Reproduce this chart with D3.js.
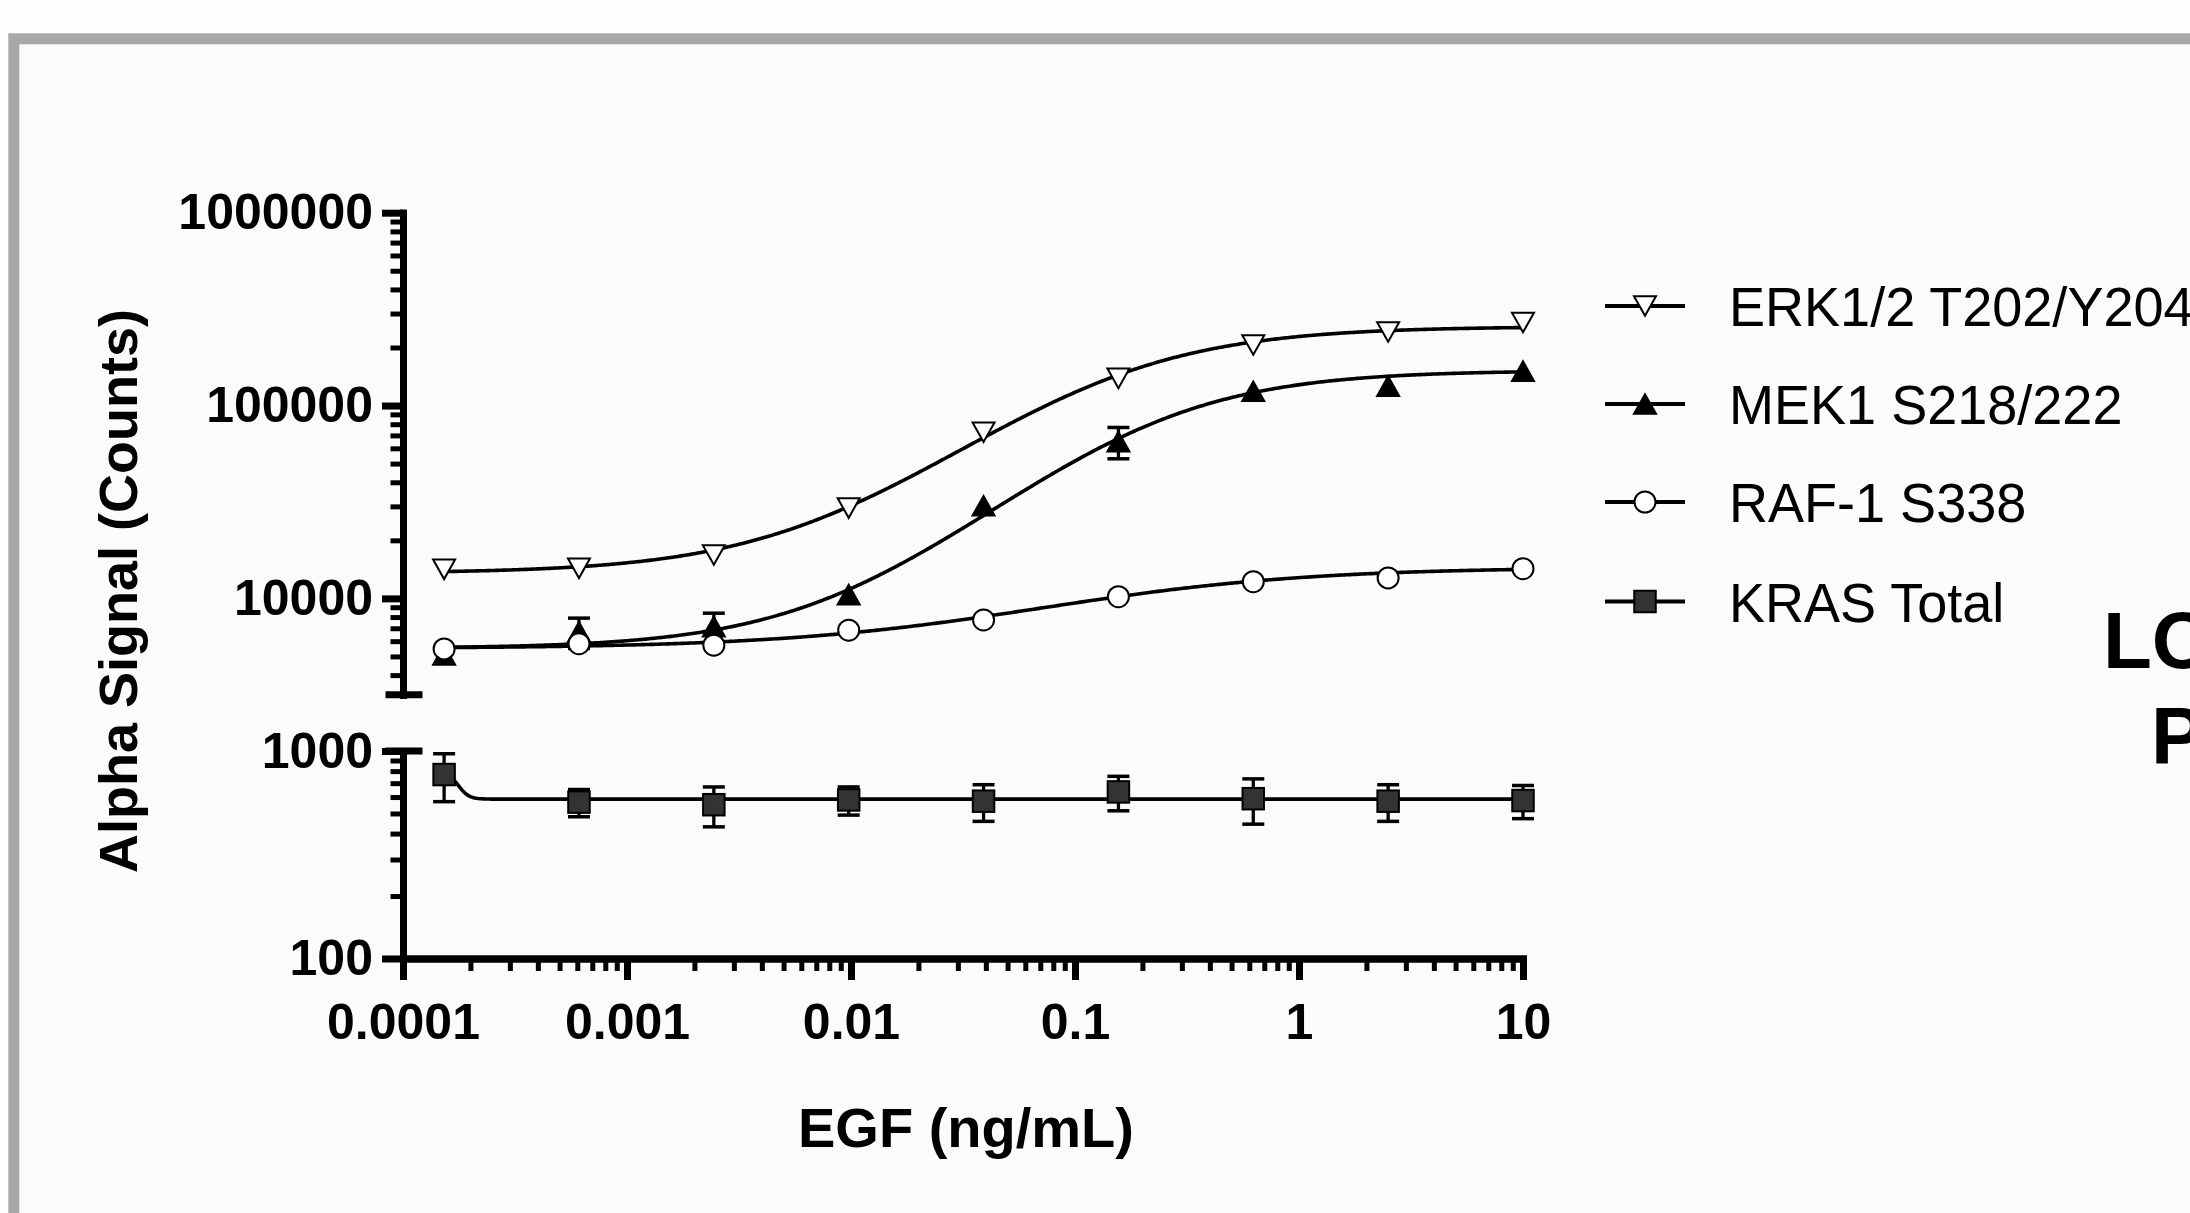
<!DOCTYPE html>
<html>
<head>
<meta charset="utf-8">
<script src="https://cdn.jsdelivr.net/npm/d3@7"></script>
<style>
  html, body { margin: 0; padding: 0; background: #fdfdfd; overflow: hidden; }
  svg { display: block; }
</style>
</head>
<body>
<script>
// ---------------- DATA ----------------
const seriesNames = ["ERK1/2 T202/Y204", "MEK1 S218/222", "RAF-1 S338", "KRAS Total"];
const egfConc = [0.000152588, 0.000610352, 0.00244141, 0.00976563, 0.0390625, 0.15625, 0.625, 2.5, 10];
const erkValues  = [14150, 14320, 16790, 29400, 72700, 138400, 206000, 240600, 269600];
const erkSD      = [0, 0, 0, 0, 0, 0, 0, 0, 0];
const mekValues  = [5090, 6700, 7130, 10450, 30200, 64950, 118500, 126000, 150800];
const mekSD      = [0, 1200, 1250, 0, 0, 12000, 0, 0, 0];
const rafValues  = [5470, 5820, 5720, 6840, 7730, 10200, 12200, 12770, 14250];
const rafSD      = [0, 0, 0, 0, 0, 0, 0, 0, 0];
const krasValues = [770, 567, 551, 581, 573, 635, 589, 573, 577];
const krasSD     = [200, 85, 120, 90, 115, 120, 145, 115, 105];
// four-parameter logistic fit parameters (per series, same order)
const fitLowAsym  = [13500, 5500, 5500, 800];
const fitHighAsym = [257000, 152000, 14500, 586];
const fitEC50     = [0.135, 0.21, 0.138, 0.0001746];
const fitHill     = [1.0, 1.05, 0.74, 18];
// axis ticks
const xTickValues = [0.0001, 0.001, 0.01, 0.1, 1, 10];
const xTickLabels = ["0.0001", "0.001", "0.01", "0.1", "1", "10"];
const yUpperTicks = [10000, 100000, 1000000];
const yUpperLabels = ["10000", "100000", "1000000"];
const yLowerTicks = [100, 1000];
const yLowerLabels = ["100", "1000"];
const xTitle = "EGF (ng/mL)";
const yTitle = "Alpha Signal (Counts)";
const sideTextLines = ["LO", "P"];

// ---------------- LAYOUT ----------------
const W = 2190, H = 1213;
const FONT = "'Liberation Sans', Arial, Helvetica, sans-serif";
const svg = d3.select("body").append("svg").attr("width", W).attr("height", H);

svg.append("rect").attr("x", 0).attr("y", 0).attr("width", W).attr("height", H).attr("fill", "#fdfdfd");
svg.append("rect").attr("x", 13.8).attr("y", 38.8).attr("width", 2400).attr("height", 1400)
  .attr("fill", "#fbfbfb").attr("stroke", "#a8a8a8").attr("stroke-width", 11);

const X0 = 403, X1 = 1523;
const x = d3.scaleLog().domain([1e-4, 10]).range([X0, X1]);
const yUp = d3.scaleLog().domain([Math.pow(10, 3.5), 1e6]).range([694.8, 212.7]);
const yLo = d3.scaleLog().domain([100, 1000]).range([958.5, 751]);
const XAXIS_Y = 958.5;

function minorTicks(lo, hi) {
  const out = [];
  for (let e = lo; e < hi; e++) for (let m = 2; m <= 9; m++) out.push(m * Math.pow(10, e));
  return out;
}

function styleAxis(g, sw) {
  g.selectAll(".domain").attr("stroke", "#000").attr("stroke-width", 7).attr("stroke-linecap", "square");
  g.selectAll(".tick line").attr("stroke", "#000").attr("stroke-width", sw);
  g.attr("font-family", FONT).attr("font-size", 50).attr("font-weight", "bold");
  g.selectAll(".tick text").attr("fill", "#000");
}

// Upper Y axis segment
const upMinor = minorTicks(3, 6).filter(v => v >= Math.pow(10, 3.5));
const gUpMinor = svg.append("g").attr("transform", `translate(${X0},0)`)
  .call(d3.axisLeft(yUp).tickValues(upMinor).tickSize(12.5).tickSizeOuter(0).tickFormat(""));
styleAxis(gUpMinor, 5);
const gUp = svg.append("g").attr("transform", `translate(${X0},0)`)
  .call(d3.axisLeft(yUp).tickValues(yUpperTicks).tickSize(21).tickSizeOuter(0).tickPadding(9)
    .tickFormat((d, i) => yUpperLabels[i]));
styleAxis(gUp, 7);

// Lower Y axis segment
const gLoMinor = svg.append("g").attr("transform", `translate(${X0},0)`)
  .call(d3.axisLeft(yLo).tickValues(minorTicks(2, 3)).tickSize(12.5).tickSizeOuter(0).tickFormat(""));
styleAxis(gLoMinor, 5);
const gLo = svg.append("g").attr("transform", `translate(${X0},0)`)
  .call(d3.axisLeft(yLo).tickValues(yLowerTicks).tickSize(21).tickSizeOuter(0).tickPadding(9)
    .tickFormat((d, i) => yLowerLabels[i]));
styleAxis(gLo, 7);

// Break caps
[yUp.range()[0], yLo.range()[1]].forEach(yy => {
  svg.append("line").attr("x1", X0 - 17.5).attr("x2", X0 + 19.5).attr("y1", yy).attr("y2", yy)
    .attr("stroke", "#000").attr("stroke-width", 7);
});

// X axis
const gXMinor = svg.append("g").attr("transform", `translate(0,${XAXIS_Y})`)
  .call(d3.axisBottom(x).tickValues(minorTicks(-4, 1)).tickSize(12.5).tickSizeOuter(0).tickFormat(""));
styleAxis(gXMinor, 5);
const gX = svg.append("g").attr("transform", `translate(0,${XAXIS_Y})`)
  .call(d3.axisBottom(x).tickValues(xTickValues).tickSize(21.5).tickSizeOuter(0)
    .tickFormat((d, i) => xTickLabels[i]));
styleAxis(gX, 7);
gX.selectAll(".tick text").attr("y", 80.5).attr("dy", 0);

// Axis titles
svg.append("text").attr("transform", "translate(137,591) rotate(-90)")
  .attr("text-anchor", "middle").attr("font-family", FONT).attr("font-weight", "bold")
  .attr("font-size", 54).attr("fill", "#000").text(yTitle);
svg.append("text").attr("x", 966).attr("y", 1147)
  .attr("text-anchor", "middle").attr("font-family", FONT).attr("font-weight", "bold")
  .attr("font-size", 56).attr("fill", "#000").text(xTitle);

// ---------------- SERIES ----------------
const series = [
  { values: erkValues,  sd: erkSD,  scale: yUp, shape: "down",   fill: "#fff" },
  { values: mekValues,  sd: mekSD,  scale: yUp, shape: "up",     fill: "#000" },
  { values: rafValues,  sd: rafSD,  scale: yUp, shape: "circle", fill: "#fff" },
  { values: krasValues, sd: krasSD, scale: yLo, shape: "square", fill: "#333" }
];

function drawMarker(g, shape, fill, cx, cy) {
  if (shape === "circle") {
    g.append("circle").attr("cx", cx).attr("cy", cy).attr("r", 10.5)
      .attr("fill", fill).attr("stroke", "#000").attr("stroke-width", 2);
  } else if (shape === "square") {
    g.append("rect").attr("x", cx - 10.75).attr("y", cy - 10.75).attr("width", 21.5).attr("height", 21.5)
      .attr("fill", fill).attr("stroke", "#000").attr("stroke-width", 2);
  } else {
    const s = shape === "down" ? 1 : -1;
    const p = d3.path();
    p.moveTo(cx - 11, cy - s * 9.8); p.lineTo(cx + 11, cy - s * 9.8); p.lineTo(cx, cy + s * 9.8); p.closePath();
    g.append("path").attr("d", p.toString()).attr("fill", fill).attr("stroke", "#000")
      .attr("stroke-width", 2).attr("stroke-linejoin", "miter");
  }
}

function fit(i, c) {
  return fitLowAsym[i] + (fitHighAsym[i] - fitLowAsym[i]) / (1 + Math.pow(fitEC50[i] / c, fitHill[i]));
}

const lmin = Math.log10(egfConc[0]), lmax = Math.log10(egfConc[egfConc.length - 1]);
series.forEach((s, i) => {
  const g = svg.append("g");
  const pts = d3.range(0, 601).map(k => {
    const c = Math.pow(10, lmin + (lmax - lmin) * k / 600);
    return [c, fit(i, c)];
  });
  g.append("path").attr("d", d3.line().x(d => x(d[0])).y(d => s.scale(d[1]))(pts))
    .attr("fill", "none").attr("stroke", "#000").attr("stroke-width", 3.6);
  // error bars
  egfConc.forEach((c, j) => {
    const sd = s.sd[j];
    if (!sd) return;
    const cx = x(c);
    const yt = s.scale(s.values[j] + sd), yb = s.scale(s.values[j] - sd);
    g.append("line").attr("x1", cx).attr("x2", cx).attr("y1", yt).attr("y2", yb)
      .attr("stroke", "#000").attr("stroke-width", 3.3);
    [yt, yb].forEach(yy => g.append("line").attr("x1", cx - 11).attr("x2", cx + 11)
      .attr("y1", yy).attr("y2", yy).attr("stroke", "#000").attr("stroke-width", 3.5));
  });
  egfConc.forEach((c, j) => drawMarker(g, s.shape, s.fill, x(c), s.scale(s.values[j])));
});

// ---------------- LEGEND ----------------
const legendY = [306, 404, 502, 601.5];
series.forEach((s, i) => {
  const g = svg.append("g");
  g.append("line").attr("x1", 1605).attr("x2", 1685).attr("y1", legendY[i]).attr("y2", legendY[i])
    .attr("stroke", "#000").attr("stroke-width", 3.8);
  drawMarker(g, s.shape, s.fill, 1645, legendY[i]);
  g.append("text").attr("transform", `translate(1729,${legendY[i] + 20}) scale(0.965,1)`)
    .attr("font-family", FONT).attr("font-size", 56).attr("fill", "#000").text(seriesNames[i]);
});

// Partially visible side text (cut by the picture edge, as in the reference)
svg.append("text").attr("x", 2103).attr("y", 668).attr("font-family", FONT).attr("font-weight", "bold")
  .attr("font-size", 80).attr("fill", "#000").text(sideTextLines[0]);
svg.append("text").attr("x", 2151).attr("y", 763).attr("font-family", FONT).attr("font-weight", "bold")
  .attr("font-size", 80).attr("fill", "#000").text(sideTextLines[1]);
</script>
</body>
</html>
